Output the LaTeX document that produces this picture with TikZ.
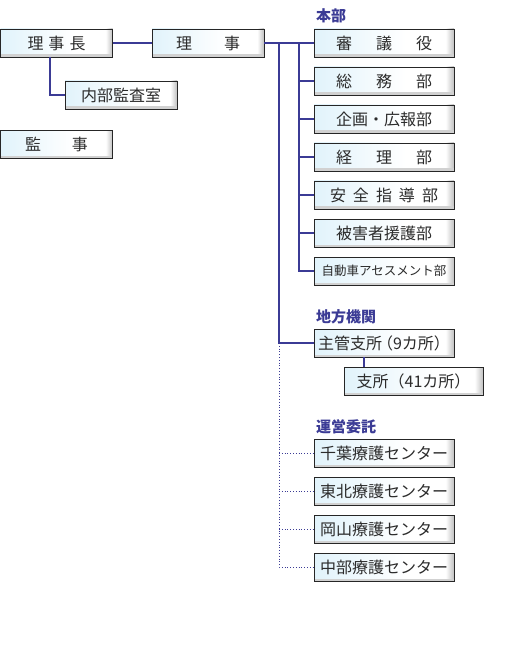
\documentclass[tikz,border=0pt]{standalone}
\usepackage{fontspec}
\setmainfont{Noto Sans CJK JP}
\usetikzlibrary{positioning, calc}
\definecolor{linenavy}{HTML}{3B3B95}
\definecolor{boxblue}{HTML}{E1F3FB}
\definecolor{textgray}{HTML}{2B2B2B}
\pgfdeclarehorizontalshading{unitshade}{100bp}{color(0bp)=(boxblue); color(25bp)=(boxblue); color(58bp)=(white); color(72bp)=(white); color(75bp)=(black!25); color(100bp)=(black!25)}
\tikzset{
  unit/.style={draw=black!85, line width=0.8pt, shading=unitshade,
    minimum width=112pt, minimum height=28pt, inner sep=0pt, text=textgray,
    font=\fontsize{16}{19}\selectfont,
    path picture={\fill[black!18] ([yshift=2.5pt]path picture bounding box.south west) rectangle (path picture bounding box.south east);}},
  wide/.style={unit, minimum width=140pt},
  group/.style={font=\bfseries\fontsize{15}{17}\selectfont, text=linenavy, anchor=west, inner sep=0pt},
  conn/.style={draw=linenavy, line width=2pt},
  dotline/.style={draw=linenavy, line width=0.8pt, dotted}
}
\begin{document}
\begin{tikzpicture}[x=1pt, y=-1pt]
  \useasboundingbox (0,0) rectangle (530,660);
  % executive
  \node[unit] (rijicho) at (56.5,43) {理\hspace{5pt}事\hspace{5pt}長};
  \node[unit] (riji) at (208,43) {理\hspace{32pt}事};
  \node[unit] (naibu) at (121,95) {内部監査室};
  \node[unit] (kanji) at (56.5,144.5) {監\hspace{31pt}事};
  % head office
  \node[group] (honbu) at (316,16) {本部};
  \node[wide] (shingi) at (384,43) {審\hspace{24pt}議\hspace{24pt}役};
  \node[wide] (somu) at (384,81) {総\hspace{24pt}務\hspace{24pt}部};
  \node[wide] (kikaku) at (384,119) {企画・広報部};
  \node[wide] (keiri) at (384,157) {経\hspace{24pt}理\hspace{24pt}部};
  \node[wide] (anzen) at (384,195) {安\hspace{7pt}全\hspace{7pt}指\hspace{7pt}導\hspace{7pt}部};
  \node[wide] (higai) at (384,233) {被害者援護部};
  \node[wide, font=\fontsize{12.5}{14}\selectfont] (jidosha) at (384,271) {自動車アセスメント部};
  % regional
  \node[group] (chiho) at (316,317) {地方機関};
  \node[wide] (shukan) at (384,343) {主管支所\hspace{-5pt}（9カ所）\hspace{-6pt}};
  \node[wide, minimum width=139pt] (shisho) at (413.5,381) {支所（41カ所）\hspace{-6pt}};
  % consigned
  \node[group] (unei) at (316,427) {運営委託};
  \node[wide] (chiba) at (384,453) {千葉療護センター};
  \node[wide] (tohoku) at (384,491) {東北療護センター};
  \node[wide] (okayama) at (384,529) {岡山療護センター};
  \node[wide] (chubu) at (384,567) {中部療護センター};
  % connectors
  \coordinate (honbus) at (299,43);
  \coordinate (chihobus) at (279,43);
  \draw[conn] (rijicho) -- (riji);
  \draw[conn] ([xshift=-6.5pt]rijicho.south) |- (naibu.west);
  \draw[conn] (riji) -- (shingi);
  \draw[conn] (honbus) |- (jidosha.west);
  \foreach \n in {somu,kikaku,keiri,anzen,higai}
    \draw[conn] (honbus |- \n.west) -- (\n.west);
  \draw[conn] (chihobus) |- (shukan.west);
  \draw[conn] ([xshift=-20pt]shukan.south) -- ([xshift=-20pt]shukan.south |- shisho.north);
  \draw[dotline] (chihobus |- shukan.west) |- (chubu.west);
  \foreach \n in {chiba,tohoku,okayama}
    \draw[dotline] (chihobus |- \n.west) -- (\n.west);
\end{tikzpicture}
\end{document}
